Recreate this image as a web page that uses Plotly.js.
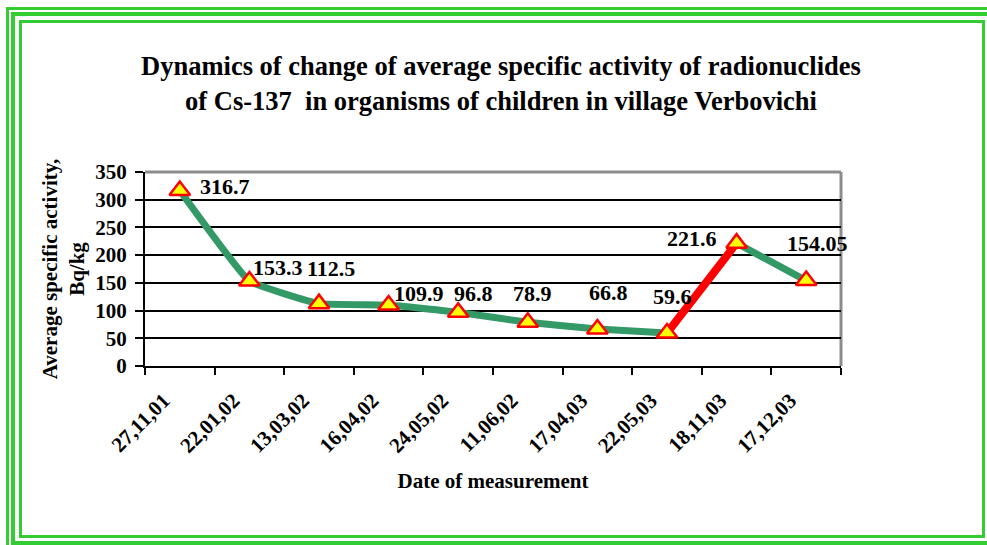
<!DOCTYPE html>
<html>
<head>
<meta charset="utf-8">
<script src="https://cdn.plot.ly/plotly-3.0.1.min.js"></script>
<style>
  html, body { margin: 0; padding: 0; background: #fff; overflow: hidden; }
  #wrap { position: relative; width: 987px; height: 545px; overflow: hidden; }
  #chart { position: absolute; left: 0; top: 0; width: 987px; height: 545px; }
  .frame { position: absolute; box-sizing: border-box; border-style: solid; border-color: #33cc33; pointer-events: none; }
</style>
</head>
<body>
<div id="wrap">
  <div id="chart"></div>
  <div class="frame" style="left:6px;top:7px;width:1000px;height:540px;border-width:3px 0 0 3px;"></div>
  <div class="frame" style="left:11px;top:12px;width:1000px;height:534px;border-width:4px 0 5px 4px;"></div>
  <div class="frame" style="left:19px;top:20px;width:966px;height:518px;border-width:3px;"></div>
</div>
<script>
// ---- data ----
const dates = ["27,11,01", "22,01,02", "13,03,02", "16,04,02", "24,05,02",
               "11,06,02", "17,04,03", "22,05,03", "18,11,03", "17,12,03"];
const activity = [316.7, 153.3, 112.5, 109.9, 96.8, 78.9, 66.8, 59.6, 221.6, 154.05];
const labelText = ["316.7", "153.3", "112.5", "109.9", "96.8", "78.9", "66.8", "59.6", "221.6", "154.05"];
const yTicks = [0, 50, 100, 150, 200, 250, 300, 350];
const redFrom = 7, redTo = 8;   // segment highlighted in red

// ---- label placement offsets (pixels, style only) ----
const labelDx = [18, 2, -14, 3, -6, -17, -10, -16, -72, -21];
const labelDy = [4, 14, 35, 12, 19, 29, 36, 36, 5, 37];

const FONT = "'Liberation Serif', 'Times New Roman', Times, serif";
const green = "#339966";

const traces = [
  { // smooth green part before the red segment
    x: dates.slice(0, redFrom + 1), y: activity.slice(0, redFrom + 1),
    type: "scatter", mode: "lines",
    line: { color: green, width: 7, shape: "spline", smoothing: 0.3 },
    hoverinfo: "skip", showlegend: false
  },
  { // green part after the red segment
    x: dates.slice(redTo), y: activity.slice(redTo),
    type: "scatter", mode: "lines",
    line: { color: green, width: 7 },
    hoverinfo: "skip", showlegend: false
  },
  { // red segment
    x: dates.slice(redFrom, redTo + 1), y: activity.slice(redFrom, redTo + 1),
    type: "scatter", mode: "lines",
    line: { color: "#ff0000", width: 8 },
    hoverinfo: "skip", showlegend: false
  },
  { // markers
    x: dates, y: activity,
    type: "scatter", mode: "markers",
    marker: { symbol: "triangle-up", size: 18, color: "#ffff00", line: { color: "#ff0000", width: 2.5 } },
    showlegend: false
  }
];

const annotations = activity.map((v, i) => ({
  x: dates[i], y: v, xref: "x", yref: "y",
  text: labelText[i], showarrow: false,
  xanchor: "left", yanchor: "middle",
  xshift: labelDx[i], yshift: labelDy[i],
  font: { family: FONT, size: 22, color: "#000", weight: "bold" }
}));

const layout = {
  width: 987, height: 545,
  margin: { l: 145, r: 146, t: 172, b: 179 },
  paper_bgcolor: "rgba(0,0,0,0)",
  plot_bgcolor: "#ffffff",
  showlegend: false,
  title: {
    text: "Dynamics of change of average specific activity of radionuclides<br>of Cs-137  in organisms of children in village Verbovichi",
    x: 0.5076, xanchor: "center", xref: "container",
    y: 0.862, yanchor: "middle", yref: "container",
    font: { family: FONT, size: 26.5, color: "#000", weight: "bold" }
  },
  xaxis: {
    type: "category",
    range: [-0.5, dates.length - 0.5],
    tickson: "boundaries",
    ticks: "outside", ticklen: 7, tickwidth: 2, tickcolor: "#000",
    showline: true, linecolor: "#000", linewidth: 2,
    showgrid: false, zeroline: false,
    tickangle: -45,
    ticklabelstandoff: 12, ticklabelshift: -16,
    tickfont: { family: FONT, size: 21, color: "#000", weight: "bold" },
    title: { text: "Date of measurement", standoff: 17,
             font: { family: FONT, size: 21, color: "#000", weight: "bold" } },
    automargin: false, fixedrange: true
  },
  yaxis: {
    range: [0, 350],
    tickvals: yTicks,
    ticks: "outside", ticklen: 8, tickwidth: 2, tickcolor: "#000",
    showline: true, linecolor: "#000", linewidth: 2,
    showgrid: true, gridcolor: "#000", gridwidth: 2,
    zeroline: false,
    tickfont: { family: FONT, size: 21, color: "#000", weight: "bold" },
    ticklabelstandoff: 4,
    title: { text: "Average specific activity,<br>Bq/kg", standoff: 5,
             font: { family: FONT, size: 21, color: "#000", weight: "bold" } },
    automargin: false, fixedrange: true
  },
  shapes: [
    { type: "line", xref: "paper", yref: "paper", x0: 0, x1: 1, y0: 1, y1: 1,
      line: { color: "#8c8c8c", width: 3 }, layer: "between" },
    { type: "line", xref: "paper", yref: "paper", x0: 1, x1: 1, y0: 0, y1: 1,
      line: { color: "#8c8c8c", width: 3 }, layer: "between" }
  ],
  annotations: annotations
};

Plotly.newPlot("chart", traces, layout, { displayModeBar: false, staticPlot: true });
</script>
</body>
</html>
